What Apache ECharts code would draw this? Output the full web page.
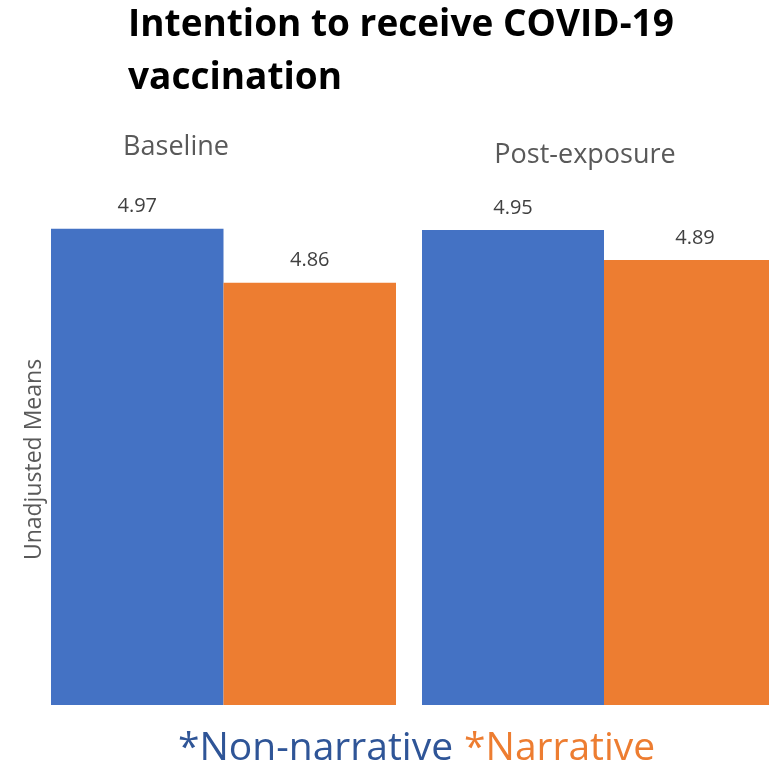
<!DOCTYPE html>
<html>
<head>
<meta charset="utf-8">
<script src="https://cdn.jsdelivr.net/npm/echarts@6/dist/echarts.min.js"></script>
<style>
  html, body { margin: 0; padding: 0; background: #fff; }
  #chart { width: 769px; height: 768px; }
</style>
</head>
<body>
<div id="chart"></div>
<script>
// Mean intention scores by condition, at each measurement point
const panels = ['Baseline', 'Post-exposure'];
const groups = ['Non-narrative', 'Narrative'];
const nonNarrative = [4.97, 4.95];
const narrative = [4.86, 4.89];

const BLUE = '#4472C4';
const ORANGE = '#ED7D31';
const LABEL_FONT = "'Open Sans', 'Noto Sans', sans-serif";

const chart = echarts.init(document.getElementById('chart'), null, { renderer: 'canvas' });

// One grid per measurement point, each with its own value axis;
// the second panel runs past the right edge of the canvas
const grids = [
  { left: 51, top: 214, width: 345, height: 491, outerBoundsMode: 'none' },
  { left: 422, top: 205, width: 364, height: 500, outerBoundsMode: 'none' }
];

function barSeries(name, values, color, idx) {
  return {
    name: name,
    type: 'bar',
    xAxisIndex: idx,
    yAxisIndex: idx,
    data: [values[idx]],
    barGap: '0%',
    barCategoryGap: '0%',
    itemStyle: { color: color },
    label: {
      show: true,
      position: 'top',
      distance: 12,
      color: '#404040',
      fontFamily: LABEL_FONT,
      fontSize: 20,
      formatter: p => p.value.toFixed(2)
    }
  };
}

const option = {
  animation: false,
  backgroundColor: '#ffffff',
  title: [
    {
      text: 'Intention to receive COVID-19\nvaccination',
      left: 128,
      top: -1,
      padding: 0,
      textStyle: {
        fontFamily: LABEL_FONT,
        fontWeight: 'bold',
        fontSize: 37,
        lineHeight: 53,
        color: '#000000'
      }
    },
    {
      text: panels[0],
      left: 176,
      top: 134,
      textAlign: 'center',
      padding: 0,
      textStyle: { fontFamily: LABEL_FONT, fontWeight: 'normal', fontSize: 27, color: '#595959' }
    },
    {
      text: panels[1],
      left: 585,
      top: 142,
      textAlign: 'center',
      padding: 0,
      textStyle: { fontFamily: LABEL_FONT, fontWeight: 'normal', fontSize: 27, color: '#595959' }
    }
  ],
  legend: {
    data: [
      { name: groups[0], textStyle: { color: '#2F5597' } },
      { name: groups[1], textStyle: { color: ORANGE } }
    ],
    icon: 'none',
    itemWidth: 0,
    itemGap: 6,
    left: 173,
    top: 729,
    padding: 0,
    formatter: '*{name}',
    textStyle: { fontFamily: LABEL_FONT, fontSize: 39 },
    selectedMode: false
  },
  grid: grids,
  xAxis: grids.map((g, i) => ({
    type: 'category',
    gridIndex: i,
    data: [panels[i]],
    show: false
  })),
  yAxis: grids.map((g, i) => ({
    type: 'value',
    gridIndex: i,
    min: 4,
    max: 5,
    axisLine: { show: false },
    axisTick: { show: false },
    axisLabel: { show: false },
    splitLine: { show: false },
    name: i === 0 ? 'Unadjusted Means' : '',
    nameLocation: 'middle',
    nameGap: 5,
    nameTextStyle: { fontFamily: LABEL_FONT, fontSize: 23, color: '#595959' }
  })),
  series: [
    barSeries(groups[0], nonNarrative, BLUE, 0),
    barSeries(groups[1], narrative, ORANGE, 0),
    barSeries(groups[0], nonNarrative, BLUE, 1),
    barSeries(groups[1], narrative, ORANGE, 1)
  ]
};

chart.setOption(option);
</script>
</body>
</html>
